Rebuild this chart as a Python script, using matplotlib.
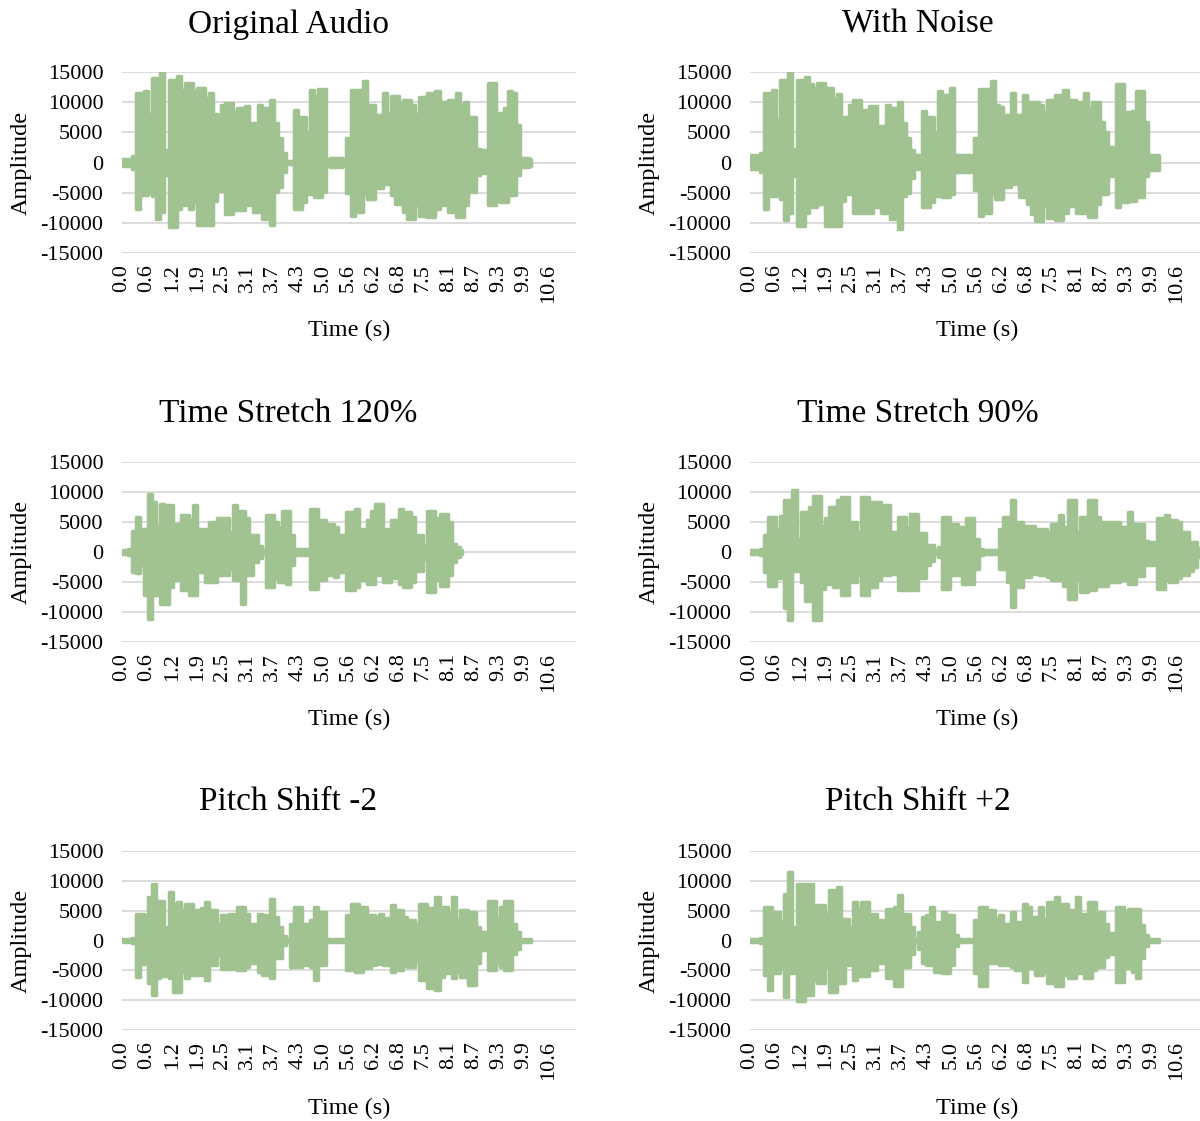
import numpy as np
import matplotlib
matplotlib.use("Agg")
import matplotlib.pyplot as plt

plt.rcParams['font.family'] = ['Liberation Serif', 'DejaVu Serif']

# envelope of each waveform, read every 0.1 s, in thousands
STEP = 0.1

orig_hi = [0.5, 0.5, 0.5, 1.0, 11.5, 11.5, 11.8, 8.0, 14.0, 14.0,
           15.0, 2.0, 13.7, 13.7, 14.3, 12.0, 13.2, 13.2, 11.8, 12.3,
           12.3, 10.7, 11.5, 8.0, 7.9, 9.5, 9.8, 9.8, 8.4, 9.0,
           9.0, 9.3, 6.5, 6.5, 9.5, 9.0, 9.0, 10.4, 6.5, 4.0,
           1.5, 0.3, 0.3, 8.7, 7.6, 7.6, 5.1, 12.0, 11.0, 12.2,
           12.2, 0.5, 0.7, 0.8, 0.7, 0.5, 4.0, 12.0, 12.0, 12.0,
           13.5, 9.5, 9.5, 7.9, 7.9, 11.5, 8.0, 11.1, 11.1, 10.0,
           10.4, 10.4, 9.5, 8.0, 10.9, 10.9, 11.5, 11.5, 11.8, 10.1,
           10.1, 10.4, 10.4, 11.5, 9.5, 10.1, 7.6, 7.6, 2.3, 2.0,
           2.0, 13.2, 13.2, 8.2, 8.2, 9.0, 11.9, 11.5, 6.2, 0.7,
           0.7, 0.5]
orig_lo = [-0.5, -0.5, -0.5, -1.0, -7.7, -5.4, -5.4, -5.0, -5.5, -9.3,
           -8.2, -2.0, -10.7, -10.7, -7.7, -7.1, -7.1, -7.7, -6.5, -10.4,
           -10.4, -10.4, -10.4, -6.3, -4.7, -4.7, -8.5, -8.5, -7.9, -7.9,
           -7.9, -7.1, -7.1, -8.2, -8.2, -9.3, -9.3, -10.4, -4.9, -4.0,
           -1.5, -0.3, -0.3, -7.7, -7.7, -6.5, -5.2, -5.2, -5.7, -5.7,
           -4.9, -0.5, -0.7, -0.8, -0.7, -0.5, -5.0, -8.8, -8.2, -8.2,
           -5.2, -6.0, -6.0, -4.3, -4.3, -3.5, -3.5, -5.4, -6.9, -6.9,
           -8.2, -9.3, -9.3, -7.1, -8.8, -8.8, -9.0, -9.0, -7.7, -7.1,
           -7.1, -8.2, -8.2, -9.0, -9.0, -7.1, -4.9, -4.9, -2.1, -1.8,
           -1.8, -7.1, -7.1, -6.3, -6.5, -6.5, -5.4, -5.4, -2.1, -0.7,
           -0.7, -0.5]

noise_hi = [1.2, 1.2, 1.2, 1.5, 11.5, 11.5, 12.0, 7.0, 13.7, 13.7,
            15.0, 2.3, 13.7, 13.7, 14.1, 13.0, 12.3, 13.2, 13.2, 12.4,
            12.4, 10.6, 11.4, 7.6, 7.6, 9.5, 10.4, 10.4, 8.7, 8.7,
            9.3, 9.3, 6.1, 6.1, 9.5, 9.0, 9.0, 10.1, 6.5, 4.0,
            2.0, 1.2, 1.2, 8.6, 7.6, 7.6, 5.1, 11.9, 11.2, 11.2,
            12.3, 1.3, 1.3, 1.3, 1.3, 1.3, 4.0, 12.2, 12.2, 12.2,
            13.5, 9.5, 9.2, 7.9, 7.9, 11.5, 7.9, 7.9, 11.2, 10.0,
            10.1, 10.1, 9.5, 8.4, 10.3, 10.3, 11.2, 11.2, 12.0, 10.3,
            10.3, 10.1, 10.1, 11.5, 9.0, 10.1, 10.1, 6.7, 5.0, 2.5,
            2.5, 13.0, 13.0, 8.3, 8.3, 8.6, 11.9, 11.9, 6.7, 1.3,
            1.3, 1.3]
noise_lo = [-1.1, -1.1, -1.1, -1.5, -7.7, -5.5, -5.5, -5.5, -6.0, -9.6,
            -8.3, -2.2, -10.6, -10.6, -8.3, -7.4, -7.4, -6.9, -6.9, -10.6,
            -10.6, -10.6, -10.6, -6.3, -5.2, -5.2, -8.3, -8.3, -8.3, -8.3,
            -8.3, -7.4, -7.4, -8.3, -8.3, -9.4, -9.4, -11.0, -5.5, -5.0,
            -2.5, -1.1, -1.1, -7.4, -7.4, -6.6, -5.5, -5.5, -5.8, -5.8,
            -5.2, -1.5, -1.5, -1.5, -1.5, -1.5, -4.5, -8.9, -8.3, -8.3,
            -5.2, -6.0, -6.0, -4.1, -4.1, -3.5, -3.5, -5.7, -5.7, -6.8,
            -8.5, -9.7, -9.7, -7.2, -9.2, -9.2, -9.6, -9.6, -8.3, -7.2,
            -7.2, -8.3, -8.3, -8.3, -9.0, -9.0, -6.9, -5.2, -5.2, -2.2,
            -2.2, -7.4, -6.6, -6.6, -6.4, -6.4, -5.8, -5.8, -2.2, -1.3,
            -1.3, -1.3]

stretch120_hi = [0.4, 0.4, 0.5, 3.5, 5.8, 3.9, 3.9, 9.7, 8.3, 4.5,
                 8.0, 7.8, 7.8, 4.7, 4.7, 6.1, 6.1, 5.3, 7.9, 3.9,
                 3.9, 3.9, 5.0, 5.0, 5.6, 5.6, 5.6, 3.3, 7.8, 6.9,
                 6.9, 5.6, 2.8, 2.8, 1.0, 0.3, 6.1, 6.1, 5.0, 4.2,
                 6.9, 6.9, 2.8, 0.5, 0.5, 0.5, 0.5, 7.2, 7.2, 5.3,
                 5.3, 4.7, 4.7, 4.2, 2.8, 2.8, 6.7, 6.7, 7.2, 3.9,
                 3.9, 5.3, 6.9, 8.0, 8.0, 3.9, 3.9, 5.3, 5.3, 7.2,
                 6.7, 6.7, 5.8, 2.8, 2.8, 1.1, 6.9, 6.9, 5.6, 6.4,
                 6.4, 5.0, 1.4, 0.8, 0.4]
stretch120_lo = [-0.4, -0.4, -0.5, -3.3, -3.5, -2.2, -7.2, -11.1, -7.2, -7.2,
                 -8.6, -8.6, -5.8, -4.7, -4.7, -6.4, -6.4, -7.2, -7.2, -3.3,
                 -3.3, -5.0, -5.0, -5.0, -3.9, -3.9, -3.9, -2.8, -4.7, -4.7,
                 -8.6, -3.9, -3.9, -1.7, -1.0, -0.3, -5.8, -5.8, -4.4, -5.0,
                 -5.0, -5.3, -2.2, -0.5, -0.5, -0.5, -0.5, -6.1, -6.1, -4.7,
                 -4.7, -3.9, -3.9, -4.2, -3.3, -3.3, -6.4, -6.4, -5.8, -4.7,
                 -4.7, -5.3, -5.3, -3.9, -3.9, -5.0, -5.0, -4.4, -4.4, -5.3,
                 -5.8, -5.8, -5.0, -3.1, -3.1, -1.1, -6.7, -6.7, -4.7, -5.6,
                 -5.6, -3.9, -1.7, -0.8, -0.4]

stretch90_hi = [0.3, 0.3, 0.3, 0.5, 2.8, 5.8, 5.8, 3.6, 6.0, 8.6,
                8.6, 10.3, 2.2, 6.7, 6.7, 7.5, 9.4, 9.4, 4.4, 5.6,
                7.5, 7.5, 8.6, 9.2, 9.2, 5.0, 5.0, 3.3, 9.2, 9.2,
                8.3, 8.3, 8.3, 7.8, 7.8, 3.3, 3.3, 5.8, 5.8, 4.2,
                6.4, 6.4, 3.1, 3.1, 1.1, 1.1, 0.3, 0.8, 5.8, 5.8,
                4.7, 4.7, 4.2, 4.2, 5.6, 5.6, 2.2, 0.5, 0.3, 0.3,
                0.3, 0.3, 3.9, 5.8, 5.8, 8.6, 5.0, 5.0, 4.4, 4.4,
                4.4, 3.9, 3.9, 3.9, 3.3, 4.7, 4.7, 6.1, 4.2, 8.6,
                8.6, 3.3, 5.8, 5.8, 8.6, 8.6, 5.8, 5.0, 5.0, 5.0,
                5.0, 5.0, 4.2, 4.2, 6.7, 4.7, 4.7, 4.7, 1.9, 1.7,
                1.7, 5.6, 5.6, 6.1, 5.3, 5.3, 5.0, 3.3, 3.3, 1.7,
                1.7, 0.6]
stretch90_lo = [-0.3, -0.3, -0.3, -0.5, -3.3, -5.6, -5.6, -4.4, -4.4, -9.4,
                -11.4, -3.1, -3.1, -5.0, -8.1, -8.1, -11.4, -11.4, -6.1, -5.3,
                -5.3, -5.8, -5.8, -7.2, -7.2, -5.0, -5.0, -3.9, -7.2, -7.2,
                -5.8, -5.8, -4.7, -3.9, -3.9, -3.6, -3.6, -6.4, -6.4, -6.4,
                -6.4, -6.4, -4.4, -4.4, -2.2, -1.5, -0.3, -0.8, -6.1, -6.1,
                -3.9, -3.9, -3.9, -5.3, -5.3, -5.3, -2.8, -0.5, -0.3, -0.3,
                -0.3, -0.3, -2.8, -2.8, -5.0, -9.2, -5.8, -5.8, -4.2, -4.2,
                -3.6, -3.6, -3.9, -3.9, -4.2, -4.7, -4.7, -4.7, -5.6, -7.8,
                -7.8, -4.7, -6.7, -6.7, -6.4, -6.4, -5.6, -5.6, -5.6, -5.0,
                -5.0, -5.0, -4.7, -4.7, -5.3, -5.3, -4.0, -4.0, -2.2, -2.2,
                -2.2, -6.1, -6.1, -4.7, -5.0, -5.0, -4.4, -3.9, -3.9, -3.1,
                -2.5, -0.8]

pitch_m2_hi = [0.3, 0.3, 0.3, 0.5, 4.4, 4.4, 4.2, 7.3, 9.5, 6.7,
               6.7, 2.3, 8.1, 6.2, 6.5, 5.1, 6.2, 6.2, 5.1, 5.1,
               5.4, 6.4, 5.1, 5.1, 2.8, 4.2, 4.2, 4.5, 4.5, 5.6,
               5.6, 4.5, 2.8, 2.8, 4.5, 4.2, 4.2, 7.0, 3.9, 2.3,
               0.8, 0.3, 2.8, 5.6, 5.6, 2.8, 2.8, 3.4, 5.6, 4.8,
               4.8, 0.3, 0.3, 0.3, 0.3, 0.3, 4.2, 6.2, 6.2, 5.6,
               5.6, 4.2, 4.2, 3.9, 4.5, 3.7, 3.7, 5.9, 5.1, 5.1,
               3.9, 3.4, 3.4, 2.8, 6.2, 6.2, 5.4, 5.4, 7.3, 5.6,
               5.6, 4.5, 7.3, 3.4, 5.1, 5.1, 4.8, 4.8, 2.3, 1.4,
               1.4, 6.7, 6.7, 3.9, 5.6, 6.7, 6.7, 2.8, 1.5, 0.3,
               0.3, 0.3]
pitch_m2_lo = [-0.3, -0.3, -0.3, -0.5, -6.1, -4.0, -4.0, -7.2, -9.1, -6.3,
               -6.0, -6.0, -6.3, -8.6, -8.6, -5.3, -6.3, -5.8, -5.8, -5.8,
               -5.8, -6.6, -4.1, -4.1, -2.5, -4.7, -4.7, -4.7, -4.7, -5.0,
               -5.0, -4.4, -3.8, -3.8, -5.3, -5.8, -5.8, -6.3, -3.0, -3.0,
               -0.8, -0.3, -4.4, -4.4, -4.4, -4.1, -4.1, -4.4, -6.6, -4.1,
               -4.1, -0.3, -0.3, -0.3, -0.3, -0.3, -4.9, -4.9, -5.2, -5.2,
               -4.6, -4.6, -4.1, -3.9, -3.9, -4.1, -4.1, -5.2, -5.0, -5.0,
               -4.1, -4.4, -4.4, -3.5, -6.6, -6.6, -8.0, -8.0, -8.3, -6.1,
               -5.5, -5.5, -6.3, -5.3, -6.1, -6.1, -7.4, -7.4, -3.8, -1.6,
               -1.6, -4.9, -4.9, -3.8, -4.4, -5.0, -5.0, -2.2, -1.5, -0.3,
               -0.3, -0.3]

pitch_p2_hi = [0.3, 0.3, 0.3, 0.5, 5.6, 5.6, 4.8, 4.8, 3.2, 7.8,
               11.4, 2.3, 9.4, 9.4, 9.5, 9.5, 5.9, 5.9, 5.9, 4.5,
               8.4, 8.4, 8.9, 3.6, 3.6, 2.3, 6.4, 5.3, 6.4, 6.4,
               4.5, 4.5, 3.4, 3.4, 5.3, 5.3, 5.6, 7.6, 4.5, 4.5,
               2.3, 0.3, 1.5, 3.9, 4.2, 5.6, 3.1, 3.1, 4.8, 4.2,
               4.2, 1.0, 0.3, 0.3, 0.3, 0.3, 3.4, 5.6, 5.6, 5.1,
               5.1, 3.6, 4.2, 2.8, 2.8, 4.8, 3.1, 3.1, 6.2, 5.6,
               3.9, 3.9, 5.6, 3.6, 6.4, 6.4, 7.3, 6.2, 6.2, 5.1,
               5.1, 7.3, 4.5, 4.5, 6.4, 6.4, 4.8, 4.8, 2.8, 1.2,
               1.2, 5.6, 5.6, 4.8, 5.3, 5.3, 5.3, 2.6, 1.0, 0.3,
               0.3, 0.3]
pitch_p2_lo = [-0.3, -0.3, -0.3, -0.5, -5.8, -8.3, -5.5, -5.5, -4.6, -9.4,
               -5.5, -5.5, -10.2, -10.2, -9.1, -9.1, -6.6, -7.2, -7.2, -4.4,
               -8.6, -8.6, -7.2, -7.2, -4.1, -4.1, -6.6, -6.0, -6.0, -6.0,
               -4.9, -4.9, -3.8, -3.8, -6.3, -6.3, -7.7, -7.7, -4.4, -4.4,
               -2.2, -0.3, -1.5, -3.8, -4.1, -4.1, -5.2, -5.2, -5.5, -5.5,
               -4.1, -1.0, -0.3, -0.3, -0.3, -0.3, -5.5, -7.7, -7.7, -3.8,
               -3.8, -3.8, -4.1, -4.1, -4.1, -4.4, -5.0, -5.0, -6.9, -4.6,
               -4.6, -5.7, -5.7, -5.2, -7.1, -7.1, -7.7, -7.7, -5.7, -6.3,
               -6.3, -5.5, -5.5, -6.3, -6.3, -5.0, -4.4, -4.4, -2.8, -2.2,
               -2.2, -6.9, -6.9, -4.6, -4.6, -5.2, -6.3, -3.0, -1.0, -0.3,
               -0.3, -0.3]

titles = ["Original Audio", "With Noise", "Time Stretch 120%",
          "Time Stretch 90%", "Pitch Shift -2", "Pitch Shift +2"]
series = [(orig_hi, orig_lo), (noise_hi, noise_lo),
          (stretch120_hi, stretch120_lo), (stretch90_hi, stretch90_lo),
          (pitch_m2_hi, pitch_m2_lo), (pitch_p2_hi, pitch_p2_lo)]

time_labels = ['0.0', '0.6', '1.2', '1.9', '2.5', '3.1', '3.7', '4.3', '5.0',
               '5.6', '6.2', '6.8', '7.5', '8.1', '8.7', '9.3', '9.9', '10.6']
TICK_STEP = 0.621
amp_ticks = [-15000, -10000, -5000, 0, 5000, 10000, 15000]
amp_labels = ['-15000', '-10000', '-5000', '0', '5000', '10000', '15000']

GREEN = '#a0c391'
GRID = '#d9d9d9'

W, H = 1200, 1121
fig = plt.figure(figsize=(W / 100, H / 100), dpi=100)

# pixel layout of the plot areas
col_left = [122, 750]
col_title = [288, 918]
row_top = [72, 462, 851]
row_bot = [253, 642, 1030]
title_y = [24, 414, 802]
xlab_y = [330, 719, 1108]
ylab_x = [21, 649]
AX_W = 454

for k, (title, (hi, lo)) in enumerate(zip(titles, series)):
    r, c = divmod(k, 2)
    x0 = col_left[c]
    ax = fig.add_axes([x0 / W, 1 - row_bot[r] / H, AX_W / W,
                       (row_bot[r] - row_top[r]) / H])
    t = np.arange(len(hi)) * STEP
    ax.fill_between(t, np.array(lo) * 1000, np.array(hi) * 1000, step='mid',
                    facecolor=GREEN, edgecolor=GREEN, linewidth=2.5,
                    joinstyle='round', zorder=3)
    ax.set_xlim(0, AX_W / 40.45)
    ax.set_ylim(-15000, 15000)
    ax.set_xticks(np.arange(len(time_labels)) * TICK_STEP)
    ax.set_xticklabels(time_labels, rotation=90, fontsize=16)
    ax.set_yticks(amp_ticks)
    ax.set_yticklabels(amp_labels, fontsize=16)
    ax.tick_params(length=0)
    ax.tick_params(axis='y', pad=13.5)
    ax.tick_params(axis='x', pad=8)
    ax.grid(axis='y', color=GRID, linewidth=1.3)
    ax.set_axisbelow(True)
    for s in ax.spines.values():
        s.set_visible(False)

    fig.text(col_title[c] / W, 1 - title_y[r] / H, title, fontsize=24,
             ha='center', va='center')
    fig.text((x0 + AX_W / 2) / W, 1 - xlab_y[r] / H, 'Time (s)', fontsize=17.5,
             ha='center', va='center')
    fig.text(ylab_x[c] / W, 1 - (row_top[r] + row_bot[r]) / 2 / H, 'Amplitude',
             fontsize=17.5, rotation=90, ha='center', va='center')

fig.savefig('out.png', dpi=100)
